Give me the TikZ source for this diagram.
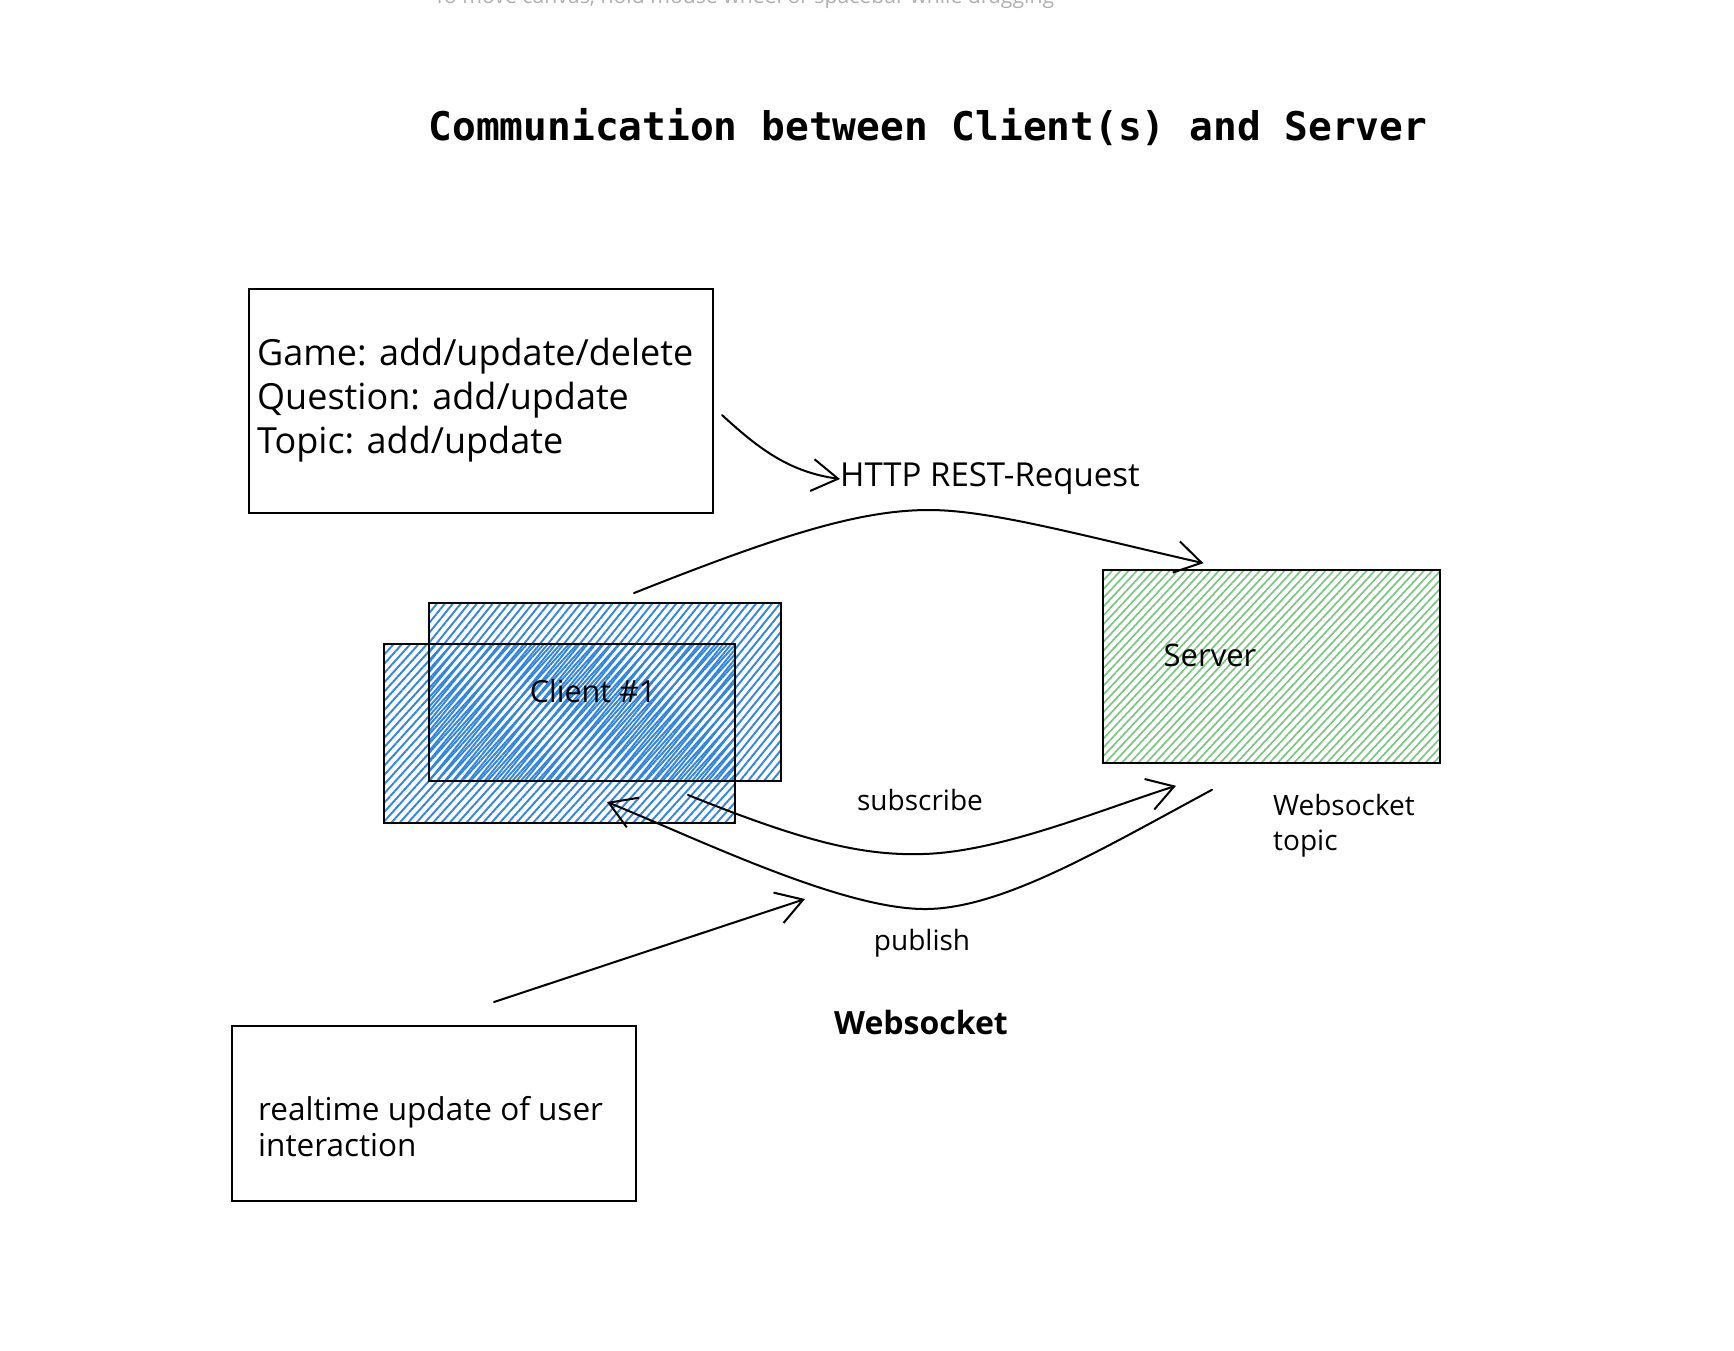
\documentclass[tikz,border=0pt]{standalone}
\usepackage{fontspec}
\setmainfont{Open Sans}
\newfontfamily\monofont{DejaVu Sans Mono}
\usetikzlibrary{arrows.meta,patterns.meta,calc}
\definecolor{hatchblue}{RGB}{48,132,226}
\definecolor{hatchgreen}{RGB}{115,198,122}
\definecolor{uigray}{RGB}{176,176,176}
\tikzset{
  box/.style={draw=black, line width=2pt, inner sep=0pt},
  outline/.style={draw=black, line width=2pt},
  bluefill/.style={inner sep=0pt, fill opacity=0.7, pattern color=hatchblue},
  greenfill/.style={box, pattern={Lines[angle=47,distance=6pt,line width=1.6pt]}, pattern color=hatchgreen},
  hand/.style={font=\fontsize{28}{35}\selectfont},
  arr/.style={line width=2pt, line cap=round, -{Straight Barb[length=26pt,width=32pt,line width=2pt]}}
}
\begin{document}
\begin{tikzpicture}[x=1pt,y=-1pt]
\useasboundingbox (0,0) rectangle (1734,1350);
\fill[white] (0,0) rectangle (1734,1350);
\node[font=\fontsize{21.2}{24}\selectfont, text=uigray, anchor=base] (hint) at (744,3.5) {To move canvas, hold mouse wheel or spacebar while dragging};
\node[font=\monofont\bfseries\fontsize{39.5}{47}\selectfont, anchor=base] (title) at (928,140) {Communication between Client(s) and Server};

% note 1
\node[box, minimum width=464pt, minimum height=224pt] (note1) at (481,401) {};
\node[font=\fontsize{36}{44}\selectfont, anchor=west, align=left, inner sep=0pt] (note1t) at (257,400) {Game: add/update/delete\\Question: add/update\\Topic: add/update};
\node[font=\fontsize{33}{38}\selectfont, anchor=west, inner sep=0pt] (httpl) at (840,479) {HTTP REST-Request};
\draw[arr] ($(note1.east)+(8,14)$) .. controls (760,450) and (790,472) .. (httpl.west);

% clients
\node[bluefill, pattern={Lines[angle=51,distance=6.2pt,line width=1.9pt]}, minimum width=350pt, minimum height=176pt] (cback) at (605,692) {};
\node[bluefill, pattern={Lines[angle=48,distance=6.2pt,line width=1.9pt]}, minimum width=349pt, minimum height=177pt] (cfront) at (559.5,733.5) {};
\draw[outline] (cback.north west) rectangle (cback.south east);
\draw[outline] (cfront.north west) rectangle (cfront.south east);
\node[font=\fontsize{30.5}{36}\selectfont] (clientl) at (593,691) {Client \#1};

% server
\node[greenfill, minimum width=337pt, minimum height=193pt] (server) at (1271.5,666.5) {};
\node[font=\fontsize{31}{36}\selectfont] (serverl) at (1210,655) {Server};
\node[hand, anchor=north west, align=left, inner sep=0pt] (wstopic) at (1273,794) {Websocket\\topic};

% labels
\node[hand] (subl) at (920,800) {subscribe};
\node[hand] (publ) at (922,943) {publish};
\node[font=\bfseries\fontsize{32}{40}\selectfont] (wsl) at (921,1022) {Websocket};

% arrows
\draw[arr] ($(cback.north)+(29,-10)$) .. controls (780,535) and (860,510) .. (929,510) .. controls (990,510) and (1080,535) .. ($(server.north)+(-68,-6)$);
\draw[arr] ($(cfront.south east)+(-47,-28)$) .. controls (800,840) and (860,856) .. (923,854) .. controls (1000,852) and (1100,810) .. ($(server.south)+(-95.5,22)$);
\draw[arr] ($(server.south)+(-59.5,26)$) .. controls (1100,850) and (1000,910) .. (923,909) .. controls (840,908) and (700,840) .. ($(cfront.south)+(47.5,-21)$);

% note 2
\node[box, minimum width=404pt, minimum height=175pt] (note2) at (434,1113.5) {};
\node[font=\fontsize{31.5}{36}\selectfont, anchor=west, align=left, inner sep=0pt] (note2t) at (258,1126.5) {realtime update of user\\interaction};
\coordinate (pubpt) at (805,899);
\draw[arr] ($(note2.north)+(60,-23)$) -- (pubpt);
\end{tikzpicture}
\end{document}
